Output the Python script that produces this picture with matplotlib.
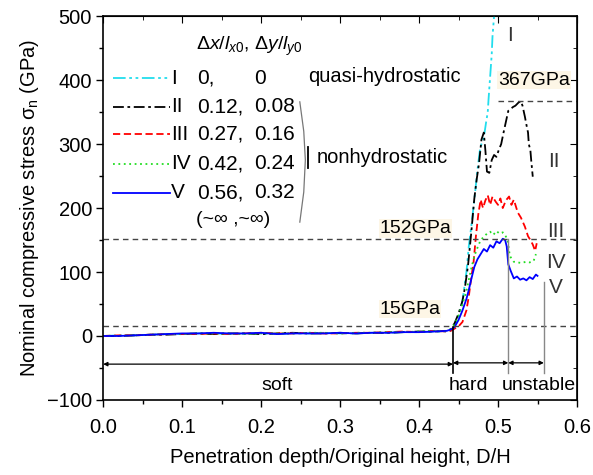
import matplotlib
matplotlib.use("Agg")
import matplotlib.pyplot as plt

plt.rcParams['font.family'] = ['Liberation Sans', 'DejaVu Sans']
plt.rcParams['mathtext.fontset'] = 'custom'
plt.rcParams['mathtext.rm'] = 'Liberation Sans'
plt.rcParams['mathtext.it'] = 'Liberation Sans:italic'

# tramo plano (soft), igual rejilla para todas las curvas
x_soft = [0.0, 0.02, 0.04, 0.06, 0.08, 0.10, 0.12, 0.14, 0.16, 0.18, 0.20,
          0.22, 0.24, 0.26, 0.28, 0.30, 0.32, 0.34, 0.36, 0.38, 0.40, 0.42, 0.435]

# I  (cyan)
x_I = x_soft + [0.44, 0.445, 0.45, 0.455, 0.46, 0.463, 0.466, 0.47, 0.474, 0.477,
                0.479, 0.482, 0.485, 0.487, 0.488, 0.49, 0.492, 0.493, 0.495, 0.497]
y_I = [0, 1, 1, 2, 3, 3, 4, 4, 3, 4, 4, 3, 4, 4, 5, 4, 4, 5, 5, 6, 6, 7, 7,
       8, 15, 30, 55, 100, 140, 170, 213, 260, 290, 300, 310, 335, 350, 370,
       405, 440, 468, 500, 530]

# II (negro)
x_II = x_soft + [0.44, 0.445, 0.45, 0.455, 0.458, 0.462, 0.466, 0.47, 0.473, 0.476,
                 0.479, 0.482, 0.484, 0.486, 0.489, 0.492, 0.495, 0.498, 0.501, 0.504,
                 0.507, 0.51, 0.513, 0.516, 0.519, 0.522, 0.526, 0.529, 0.531, 0.534,
                 0.536, 0.538, 0.539, 0.541, 0.542, 0.544]
y_II = [0, 0, 1, 2, 2, 3, 4, 3, 4, 4, 3, 4, 5, 4, 4, 5, 4, 5, 5, 6, 7, 7, 8,
        10, 20, 35, 55, 75, 110, 160, 215, 245, 270, 307, 318, 290, 257, 255,
        275, 283, 280, 291, 300, 318, 335, 352, 355, 358, 360, 365, 367, 360,
        343, 330, 318, 300, 290, 275, 249]

# III (rojo)
x_III = x_soft + [0.44, 0.45, 0.455, 0.46, 0.463, 0.466, 0.469, 0.472, 0.475, 0.478,
                  0.481, 0.484, 0.487, 0.49, 0.493, 0.497, 0.5, 0.503, 0.506, 0.51,
                  0.514, 0.517, 0.52, 0.525, 0.529, 0.534, 0.538, 0.541, 0.544, 0.547,
                  0.549]
y_III = [0, 1, 1, 2, 3, 3, 3, 4, 3, 4, 5, 4, 4, 5, 4, 4, 5, 5, 6, 7, 6, 8, 7,
         8, 15, 22, 40, 62, 90, 115, 156, 190, 213, 200, 212, 220, 205, 218,
         210, 205, 215, 200, 212, 218, 205, 213, 193, 185, 171, 156, 150,
         143, 133, 145]

# IV (verde)
x_IV = x_soft + [0.44, 0.445, 0.45, 0.455, 0.46, 0.463, 0.466, 0.47, 0.474, 0.478,
                 0.482, 0.486, 0.49, 0.494, 0.498, 0.502, 0.506, 0.509, 0.512, 0.515,
                 0.52, 0.525, 0.53, 0.535, 0.54, 0.545, 0.548]
y_IV = [0, 0, 1, 2, 3, 3, 4, 4, 4, 3, 4, 4, 4, 5, 5, 4, 5, 5, 6, 6, 7, 8, 8,
        11, 18, 32, 50, 70, 88, 105, 125, 138, 150, 155, 160, 163, 158, 164,
        160, 162, 158, 150, 125, 116, 115, 114, 116, 115, 117, 128]

# V  (azul)
x_V = x_soft + [0.44, 0.445, 0.45, 0.455, 0.46, 0.463, 0.466, 0.47, 0.474, 0.478,
                0.482, 0.486, 0.49, 0.494, 0.498, 0.502, 0.506, 0.509, 0.511, 0.513,
                0.516, 0.52, 0.524, 0.528, 0.532, 0.536, 0.54, 0.544, 0.548, 0.55]
y_V = [0, 0, 1, 2, 3, 4, 4, 5, 4, 4, 5, 3, 4, 4, 4, 5, 4, 5, 5, 6, 6, 7, 8,
       10, 14, 25, 40, 58, 72, 88, 108, 120, 128, 136, 132, 142, 138, 148, 145,
       152, 150, 140, 112, 102, 90, 93, 88, 90, 87, 92, 89, 96, 94]

nombres = ["I", "II", "III", "IV", "V"]
dx = ["0,", "0.12,", "0.27,", "0.42,", "0.56,"]
dy = ["0", "0.08", "0.16", "0.24", "0.32"]
colores = ["#22dded", "black", "red", "#22dd22", "blue"]
estilos = [(0, (7, 2, 1.5, 2, 1.5, 2)), (0, (6, 2, 1.5, 2)), (0, (4, 2)), (0, (1, 2)), "-"]

# niveles de referencia (GPa)
niveles = [15, 152, 367]

xticks = [0.0, 0.1, 0.2, 0.3, 0.4, 0.5, 0.6]
xminor = [0.05, 0.15, 0.25, 0.35, 0.45, 0.55]
yticks = [-100, 0, 100, 200, 300, 400, 500]
yminor = [-50, 50, 150, 250, 350, 450]

fig = plt.figure(figsize=(5.93, 4.75), dpi=100)
ax = fig.add_axes([0.174, 0.158, 0.799, 0.808])

datos = [(x_I, y_I), (x_II, y_II), (x_III, y_III), (x_IV, y_IV), (x_V, y_V)]
for (xx, yy), c, ls in zip(datos, colores, estilos):
    ax.plot(xx, yy, color=c, linestyle=ls, lw=1.3)

# lineas discontinuas horizontales
ax.plot([0, 0.6], [niveles[0]] * 2, ls=(0, (4, 3)), color="#444444", lw=1)
ax.plot([0, 0.6], [niveles[1]] * 2, ls=(0, (4, 3)), color="#444444", lw=1)
ax.plot([0.5, 0.6], [niveles[2]] * 2, ls=(0, (4, 3)), color="#444444", lw=1)

fondo = dict(facecolor="#fdf6e6", edgecolor="none", pad=0.5)
ax.text(0.35, 42, "15GPa", fontsize=14, va="center", bbox=fondo)
ax.text(0.35, 168, "152GPa", fontsize=14, va="center", bbox=fondo)
ax.text(0.5, 400, "367GPa", fontsize=14, va="center", bbox=fondo)

# etiquetas de curvas
gris = "#333333"
ax.text(0.511, 470, "I", fontsize=15, va="center", color=gris)
ax.text(0.563, 273, "II", fontsize=15, va="center", color=gris)
ax.text(0.562, 164, "III", fontsize=15, va="center", color=gris)
ax.text(0.561, 115, "IV", fontsize=15, va="center", color=gris)
ax.text(0.565, 76, "V", fontsize=15, va="center", color=gris)

# regiones soft / hard / unstable
ax.plot([0.443, 0.443], [14, -58], color="black", lw=1.2)
ax.plot([0.513, 0.513], [152, -58], color="#888888", lw=1)
ax.plot([0.558, 0.558], [84, -58], color="#888888", lw=1)
flecha = dict(arrowstyle="<|-|>", color="black", lw=0.9, mutation_scale=6, shrinkA=0, shrinkB=0)
ax.annotate("", xy=(0.0, -44), xytext=(0.443, -44), arrowprops=flecha)
ax.annotate("", xy=(0.443, -42), xytext=(0.513, -42), arrowprops=flecha)
ax.annotate("", xy=(0.513, -42), xytext=(0.558, -42), arrowprops=flecha)
ax.text(0.22, -78, "soft", fontsize=14, ha="center", va="center")
ax.text(0.463, -78, "hard", fontsize=14, ha="center", va="center")
ax.text(0.552, -78, "unstable", fontsize=14, ha="center", va="center")

# leyenda hecha a mano
filas = [403, 358, 315, 269, 224]
for i in range(5):
    ax.plot([0.013, 0.085], [filas[i]] * 2, color=colores[i], linestyle=estilos[i], lw=1.3)
    ax.text(0.086, filas[i], nombres[i], fontsize=15, va="center")
    ax.text(0.119, filas[i], dx[i], fontsize=15, va="center")
    ax.text(0.191, filas[i], dy[i], fontsize=15, va="center")
ax.text(0.117, 452, r"$\Delta x/l_{x0}$, $\Delta y/l_{y0}$", fontsize=14, va="center")
ax.text(0.117, 182, "(~∞ ,~∞)", fontsize=14, va="center")
ax.text(0.259, 406, "quasi-hydrostatic", fontsize=14.5, va="center")
ax.text(0.27, 279, "nonhydrostatic", fontsize=14.5, va="center")
ax.plot([0.249, 0.254, 0.256, 0.254, 0.249], [366, 320, 275, 225, 178], color="#777777", lw=0.9)
ax.plot([0.259, 0.259], [262, 296], color="black", lw=1.3)

ax.set_xlim(0, 0.6)
ax.set_ylim(-100, 500)
ax.set_xticks(xticks)
ax.set_xticks(xminor, minor=True)
ax.set_yticks(yticks)
ax.set_yticks(yminor, minor=True)
ax.tick_params(which="both", direction="out", labelsize=14.5)
ax.tick_params(which="major", length=5, width=1)
ax.tick_params(which="minor", length=3, width=1)
ax.tick_params(axis="x", pad=8)
ax.tick_params(axis="y", pad=3)
for s in ax.spines.values():
    s.set_linewidth(1.2)

# ejes arriba/derecha con marcas hacia dentro
arriba = ax.secondary_xaxis("top")
arriba.set_xticks(xticks)
arriba.set_xticks(xminor, minor=True)
arriba.tick_params(which="both", direction="in", labeltop=False)
arriba.tick_params(which="major", length=5)
arriba.tick_params(which="minor", length=3)
derecha = ax.secondary_yaxis("right")
derecha.set_yticks(yticks)
derecha.set_yticks(yminor, minor=True)
derecha.tick_params(which="both", direction="in", labelright=False)
derecha.tick_params(which="major", length=5)
derecha.tick_params(which="minor", length=3)

ax.set_xlabel("Penetration depth/Original height, D/H", fontsize=14.5, labelpad=8)
ax.set_ylabel(r"Nominal compressive stress σ$_\mathrm{n}$ (GPa)", fontsize=14.5, labelpad=4)

plt.savefig("out.png", dpi=100)
